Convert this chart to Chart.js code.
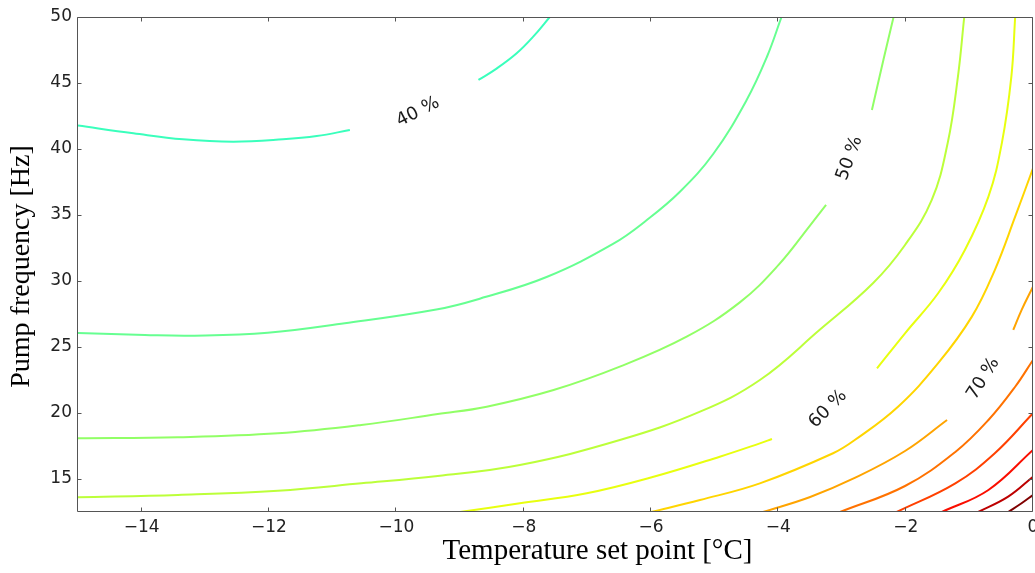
<!DOCTYPE html>
<html>
<head>
<meta charset="utf-8">
<script src="https://cdn.jsdelivr.net/npm/chart.js@4.4.1/dist/chart.umd.min.js"></script>
<style>
  html, body { margin: 0; padding: 0; background: #fff; }
  #wrap { width: 1035px; height: 573px; position: relative; }
</style>
</head>
<body>
<div id="wrap"><canvas id="c" width="1035" height="573"></canvas></div>
<script>
// Efficiency contour levels in percent
const levels = [40, 45, 50, 55, 60, 65, 70, 75, 80, 85, 90, 95];
const xTicks = [-14, -12, -10, -8, -6, -4, -2, 0];
const yTicks = [15, 20, 25, 30, 35, 40, 45, 50];

// Contour paths: [temperature set point °C, pump frequency Hz].
// Labelled contours are split in two pieces around their label.
const c40a = [[-15, 41.78], [-14.13, 41.19], [-13.35, 40.73], [-12.56, 40.55], [-11.78, 40.73], [-11.25, 40.98], [-10.73, 41.44]];
const c40b = [[-8.71, 45.23], [-8.42, 46.11], [-8.11, 47.25], [-7.85, 48.51], [-7.59, 50.0]];
const c45 = [[-15, 26.07], [-13.95, 25.91], [-13.17, 25.86], [-12.02, 26.08], [-10.81, 26.8], [-9.35, 27.86], [-8.69, 28.66], [-7.64, 30.3], [-6.59, 32.83], [-6.07, 34.6], [-5.55, 36.74], [-5.02, 39.64], [-4.5, 43.69], [-4.18, 46.97], [-3.95, 50.0]];
const c50a = [[-15, 18.08], [-13.43, 18.16], [-11.86, 18.46], [-10.55, 19.09], [-9.35, 19.92], [-8.58, 20.48], [-7.53, 21.74], [-6.49, 23.51], [-5.44, 25.78], [-4.6, 28.4], [-4.0, 31.2], [-3.5, 34.22], [-3.25, 35.76]];
const c50b = [[-2.53, 42.95], [-2.35, 46.74], [-2.19, 50.0]];
const c55 = [[-15, 13.61], [-13.43, 13.79], [-11.86, 14.11], [-10.55, 14.67], [-9.35, 15.23], [-8.06, 16.06], [-6.49, 17.95], [-5.23, 20.1], [-4.29, 22.5], [-3.35, 26.3], [-2.51, 29.85], [-2.01, 32.73], [-1.59, 36.14], [-1.34, 40.45], [-1.18, 45.45], [-1.08, 50.0]];
const c60a = [[-9.0, 12.5], [-8.06, 13.16], [-7.01, 13.92], [-5.96, 15.17], [-4.92, 16.69], [-4.29, 17.7], [-4.1, 18.03]];
const c60b = [[-2.45, 23.39], [-2.01, 26.04], [-1.49, 29.07], [-1.07, 32.35], [-0.7, 36.39], [-0.49, 40.43], [-0.34, 45.48], [-0.28, 50.0]];
const c65 = [[-6.0, 12.5], [-5.23, 13.41], [-4.29, 14.67], [-3.14, 16.95], [-2.8, 17.95], [-2.12, 20.48], [-1.49, 23.77], [-0.96, 27.3], [-0.6, 30.83], [-0.28, 34.87], [0, 38.54]];
const c70a = [[-4.24, 12.5], [-3.5, 13.64], [-2.8, 15.08], [-2.01, 17.12], [-1.35, 19.47]];
const c70b = [[-0.31, 26.29], [-0.18, 27.8], [0, 29.57]];
const c75 = [[-3.03, 12.5], [-2.01, 14.47], [-1.22, 17.05], [-0.7, 19.47], [-0.28, 21.99], [0, 24.02]];
const c80 = [[-2.14, 12.5], [-1.22, 14.67], [-0.6, 16.95], [0, 19.98]];
const c85 = [[-1.43, 12.5], [-0.7, 14.17], [0, 17.2]];
const c90 = [[-0.86, 12.5], [-0.39, 13.66], [0, 15.17]];
const c95 = [[-0.39, 12.5], [-0.18, 13.16], [0, 13.79]];

const contours = [
  { level: 40, parts: [c40a, c40b] },
  { level: 45, parts: [c45] },
  { level: 50, parts: [c50a, c50b] },
  { level: 55, parts: [c55] },
  { level: 60, parts: [c60a, c60b] },
  { level: 65, parts: [c65] },
  { level: 70, parts: [c70a, c70b] },
  { level: 75, parts: [c75] },
  { level: 80, parts: [c80] },
  { level: 85, parts: [c85] },
  { level: 90, parts: [c90] },
  { level: 95, parts: [c95] }
];

// Inline contour labels: anchor in data units, text angle in degrees
const labelSpots = [
  { level: 40, x: -9.66, y: 42.8, angle: -27 },
  { level: 50, x: -2.88, y: 39.3, angle: -70 },
  { level: 60, x: -3.22, y: 20.3, angle: -45 },
  { level: 70, x: -0.78, y: 22.6, angle: -58 }
];

// jet colour map
function jet(t) {
  const interp = (pts) => {
    for (let i = 1; i < pts.length; i++) {
      if (t <= pts[i][0]) {
        const [x0, y0] = pts[i - 1], [x1, y1] = pts[i];
        return y0 + (y1 - y0) * (t - x0) / (x1 - x0);
      }
    }
    return pts[pts.length - 1][1];
  };
  const r = interp([[0, 0], [0.35, 0], [0.66, 1], [0.89, 1], [1, 0.5]]);
  const g = interp([[0, 0], [0.125, 0], [0.375, 1], [0.64, 1], [0.91, 0], [1, 0]]);
  const b = interp([[0, 0.5], [0.11, 1], [0.34, 1], [0.65, 0], [1, 0]]);
  return `rgb(${Math.round(r * 255)},${Math.round(g * 255)},${Math.round(b * 255)})`;
}
const levelMax = Math.max(...levels);
const colorOf = (lv) => jet(lv / levelMax);

const datasets = [];
contours.forEach(c => {
  c.parts.forEach(p => {
    datasets.push({
      label: c.level + ' %',
      data: p.map(([x, y]) => ({ x, y })),
      showLine: true,
      borderColor: colorOf(c.level),
      backgroundColor: colorOf(c.level),
      borderWidth: 2,
      pointRadius: 0,
      tension: 0.4,
      fill: false
    });
  });
});

const fmt = (v) => (v < 0 ? '\u2212' + Math.abs(v) : String(v));

const decor = {
  id: 'decor',
  afterDatasetsDraw(chart) {
    const { ctx, chartArea: a, scales } = chart;
    const sx = scales.x, sy = scales.y;
    ctx.save();
    // frame
    ctx.strokeStyle = '#555';
    ctx.lineWidth = 1;
    const L = Math.round(a.left) - 0.5, R = Math.round(a.right) - 0.5;
    const T = Math.round(a.top) + 0.5, B = Math.round(a.bottom) - 0.5;
    ctx.beginPath();
    ctx.rect(L, T, R - L, B - T);
    ctx.stroke();
    // inward ticks on all four sides
    const tl = 4;
    ctx.beginPath();
    xTicks.forEach(v => {
      const px = Math.round(sx.getPixelForValue(v)) - 0.5;
      ctx.moveTo(px, B); ctx.lineTo(px, B - tl);
      ctx.moveTo(px, T); ctx.lineTo(px, T + tl);
    });
    yTicks.forEach(v => {
      const py = Math.round(sy.getPixelForValue(v)) + 0.5;
      ctx.moveTo(L, py); ctx.lineTo(L + tl, py);
      ctx.moveTo(R, py); ctx.lineTo(R - tl, py);
    });
    ctx.stroke();

    // contour labels
    ctx.fillStyle = '#1a1a1a';
    ctx.font = '18px "DejaVu Sans"';
    ctx.textAlign = 'center';
    ctx.textBaseline = 'middle';
    labelSpots.forEach(s => {
      ctx.save();
      ctx.translate(sx.getPixelForValue(s.x), sy.getPixelForValue(s.y));
      ctx.rotate(s.angle * Math.PI / 180);
      ctx.fillText(s.level + ' %', 0, 0);
      ctx.restore();
    });

    // axis titles
    ctx.fillStyle = '#000';
    ctx.font = '29px "Liberation Serif"';
    ctx.fillText('Temperature set point [\u00B0C]', (a.left + a.right) / 2 + 42, 551);
    ctx.font = '28px "Liberation Serif"';
    ctx.save();
    ctx.translate(22, (a.top + a.bottom) / 2 + 2);
    ctx.rotate(-Math.PI / 2);
    ctx.fillText('Pump frequency [Hz]', 0, 0);
    ctx.restore();
    ctx.restore();
  }
};

new Chart(document.getElementById('c'), {
  type: 'scatter',
  data: { datasets },
  options: {
    responsive: false,
    animation: false,
    layout: { padding: { top: 17, right: 2, left: 0, bottom: 0 } },
    plugins: { legend: { display: false }, tooltip: { enabled: false } },
    scales: {
      x: {
        type: 'linear', min: -15, max: 0,
        grid: { display: false, drawTicks: false },
        border: { display: false },
        afterBuildTicks: (s) => { s.ticks = xTicks.map(v => ({ value: v })); },
        afterFit: (s) => { s.height = 61; s.paddingLeft = 0; s.paddingRight = 0; },
        ticks: { padding: 5, color: '#222', maxRotation: 0, autoSkip: false,
                 font: { family: 'DejaVu Sans', size: 17 }, callback: fmt }
      },
      y: {
        type: 'linear', min: 12.5, max: 50,
        grid: { display: false, drawTicks: false },
        border: { display: false },
        afterBuildTicks: (s) => { s.ticks = yTicks.map(v => ({ value: v })); },
        afterFit: (s) => { s.width = 78; s.paddingTop = 0; s.paddingBottom = 0; },
        ticks: { padding: 6, color: '#222', autoSkip: false,
                 font: { family: 'DejaVu Sans', size: 17 }, callback: fmt }
      }
    }
  },
  plugins: [decor]
});
</script>
</body>
</html>
